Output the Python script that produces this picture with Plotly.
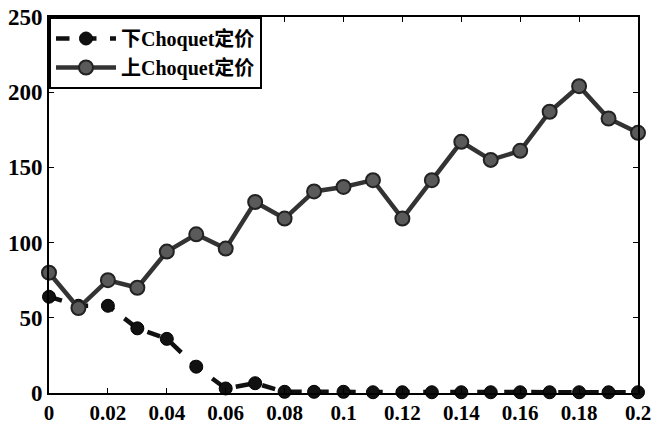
import plotly.graph_objects as go

x_vals = [0, 0.01, 0.02, 0.03, 0.04, 0.05, 0.06, 0.07, 0.08, 0.09, 0.1,
          0.11, 0.12, 0.13, 0.14, 0.15, 0.16, 0.17, 0.18, 0.19, 0.2]
lower_price = [64, 58, 58, 43, 36, 17.5, 3, 6.5, 0.8, 0.8, 0.8,
               0.5, 0.5, 0.5, 0.5, 0.5, 0.5, 0.5, 0.5, 0.5, 0.5]
upper_price = [80, 56.5, 75, 70, 94, 105.5, 96, 127, 116, 134, 137,
               141.5, 116, 141.5, 167, 155, 161, 187, 204, 182.5, 173]
lower_name = "下Choquet定价"
upper_name = "上Choquet定价"
x_ticks = [0, 0.02, 0.04, 0.06, 0.08, 0.1, 0.12, 0.14, 0.16, 0.18, 0.2]
x_tick_labels = ["0", "0.02", "0.04", "0.06", "0.08", "0.1", "0.12", "0.14", "0.16", "0.18", "0.2"]
y_ticks = [0, 50, 100, 150, 200, 250]

FONT = "Liberation Serif, Noto Sans CJK SC, serif"

fig = go.Figure()
fig.add_trace(go.Scatter(
    x=x_vals, y=lower_price, name=lower_name, mode="lines+markers",
    line=dict(color="#111111", width=4.5, dash="dash"),
    marker=dict(color="#111111", size=13, line=dict(color="#000000", width=1)),
    cliponaxis=False,
))
fig.add_trace(go.Scatter(
    x=x_vals, y=upper_price, name=upper_name, mode="lines+markers",
    line=dict(color="#333333", width=4.5),
    marker=dict(color="#5a5a5a", size=14, line=dict(color="#222222", width=2)),
    cliponaxis=False,
))

fig.update_layout(
    width=655, height=425,
    margin=dict(l=49, r=17, t=17, b=32),
    paper_bgcolor="white", plot_bgcolor="white",
    font=dict(family=FONT, size=20, color="black"),
    showlegend=True,
    legend=dict(
        x=0, y=1, xanchor="left", yanchor="top",
        bgcolor="white", bordercolor="black", borderwidth=2,
        font=dict(family=FONT, size=20, color="black", weight="bold"),
        tracegroupgap=0, itemwidth=60,
    ),
    xaxis=dict(
        range=[0, 0.2], tickvals=x_ticks, ticktext=x_tick_labels,
        ticks="inside", ticklen=5, tickcolor="black",
        showline=True, linecolor="black", linewidth=2, mirror="ticks",
        showgrid=False, zeroline=False, automargin=False,
        tickfont=dict(family=FONT, size=21, color="black", weight="bold"),
    ),
    yaxis=dict(
        range=[0, 250], tickvals=y_ticks,
        ticks="inside", ticklen=5, tickcolor="black",
        showline=True, linecolor="black", linewidth=2, mirror="ticks",
        showgrid=False, zeroline=False, automargin=False,
        tickfont=dict(family=FONT, size=23, color="black", weight="bold"),
    ),
)

fig.write_html("out.html", config={"displayModeBar": False},
               post_script="document.body.style.margin='0';document.body.style.overflow='hidden';")
